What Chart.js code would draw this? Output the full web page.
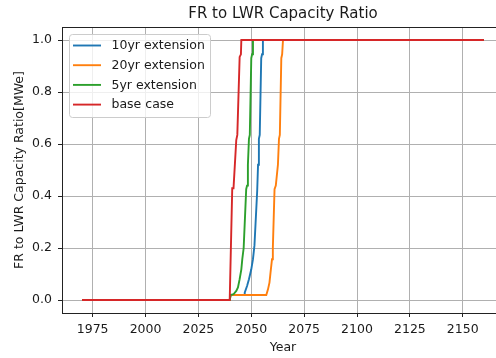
<!DOCTYPE html>
<html>
<head>
<meta charset="utf-8">
<script src="https://cdn.jsdelivr.net/npm/chart.js@4.4.1/dist/chart.umd.min.js"></script>
<style>
  html, body { margin: 0; padding: 0; overflow: hidden; background: #ffffff; }
  #wrap { width: 504px; height: 358px; }
</style>
</head>
<body>
<div id="wrap"><canvas id="ratioChart" width="504" height="358"></canvas></div>
<script>
// breakpoints (year, FR/LWR ratio)
const ext10Years = [1970, 2039.8, 2040.2, 2046.6, 2046.9, 2048.0, 2048.9, 2050.0, 2050.8, 2051.5, 2052.8, 2053.2, 2053.6, 2054.0, 2054.7, 2055.1, 2055.5, 2160];
const ext10Values = [0, 0, 0.019, 0.019, 0.028, 0.054, 0.08, 0.118, 0.157, 0.21, 0.42, 0.52, 0.62, 0.635, 0.93, 0.945, 1.0, 1.0];

const ext20Years = [1970, 2039.8, 2040.2, 2057.1, 2057.9, 2058.6, 2059.1, 2059.8, 2060.2, 2061.0, 2061.6, 2062.6, 2063.1, 2063.5, 2064.2, 2064.6, 2065.0, 2160];
const ext20Values = [0, 0, 0.019, 0.019, 0.041, 0.067, 0.105, 0.157, 0.2, 0.426, 0.44, 0.52, 0.62, 0.635, 0.93, 0.945, 1.0, 1.0];

const ext5Years = [1970, 2039.8, 2040.2, 2041.6, 2042.9, 2043.7, 2044.5, 2045.3, 2045.75, 2046.4, 2047.6, 2048.0, 2048.4, 2048.9, 2049.3, 2050.0, 2050.4, 2050.8, 2160];
const ext5Values = [0, 0, 0.019, 0.022, 0.035, 0.048, 0.08, 0.118, 0.157, 0.2, 0.426, 0.44, 0.52, 0.62, 0.635, 0.93, 0.945, 1.0, 1.0];

const baseYears = [1970, 2039.8, 2041.0, 2041.6, 2042.9, 2043.4, 2044.5, 2045.1, 2045.3, 2160];
const baseValues = [0, 0, 0.43, 0.43, 0.615, 0.635, 0.935, 0.945, 1.0, 1.0];

const seriesLabels = ["10yr extension", "20yr extension", "5yr extension", "base case"];
const seriesColors = ["#1f77b4", "#ff7f0e", "#2ca02c", "#d62728"];

const yearTicks = [1975, 2000, 2025, 2050, 2075, 2100, 2125, 2150];
const ratioTicks = [0, 0.2, 0.4, 0.6, 0.8, 1.0];

const textColor = "#1a1a1a";
const fontFamily = "'DejaVu Sans', sans-serif";

const toPoints = (years, values) => years.map((year, i) => ({ x: year, y: values[i] }));

const seriesPoints = [
  toPoints(ext10Years, ext10Values),
  toPoints(ext20Years, ext20Values),
  toPoints(ext5Years, ext5Values),
  toPoints(baseYears, baseValues),
];

// top and right spines, like matplotlib's box
const axesFrame = {
  id: "axesFrame",
  afterDatasetsDraw(chart) {
    const { ctx, chartArea } = chart;
    ctx.save();
    ctx.strokeStyle = "#222222";
    ctx.lineWidth = 1;
    ctx.beginPath();
    ctx.moveTo(chartArea.left, Math.round(chartArea.top) + 0.5);
    ctx.lineTo(chartArea.right, Math.round(chartArea.top) + 0.5);
    ctx.lineTo(chartArea.right - 0.5, chartArea.bottom);
    ctx.stroke();
    ctx.restore();
  },
};

// legend boxed inside the upper left corner of the plot
const insetLegend = {
  id: "insetLegend",
  afterDraw(chart) {
    const { ctx, chartArea } = chart;
    const x = Math.round(chartArea.left + 7) + 0.5;
    const y = Math.round(chartArea.top + 7) + 0.5;
    ctx.save();
    ctx.font = `12.5px ${fontFamily}`;
    const labelWidth = Math.max(...chart.data.datasets.map((ds) => ctx.measureText(ds.label).width));
    const w = Math.round(42 + labelWidth + 6);
    const h = 83;

    ctx.beginPath();
    ctx.roundRect(x, y, w, h, 3);
    ctx.fillStyle = "rgba(255, 255, 255, 0.8)";
    ctx.fill();
    ctx.strokeStyle = "#cccccc";
    ctx.lineWidth = 1;
    ctx.stroke();

    chart.data.datasets.forEach((ds, i) => {
      const rowY = y + 11 + i * 19.7;
      ctx.beginPath();
      ctx.moveTo(x + 3.5, rowY);
      ctx.lineTo(x + 31.5, rowY);
      ctx.strokeStyle = ds.borderColor;
      ctx.lineWidth = 1.9;
      ctx.stroke();
      ctx.fillStyle = textColor;
      ctx.textBaseline = "middle";
      ctx.textAlign = "left";
      ctx.fillText(ds.label, x + 42, rowY + 0.5);
    });
    ctx.restore();
  },
};

new Chart(document.getElementById("ratioChart"), {
  data: {
    datasets: seriesLabels.map((label, i) => ({
      borderColor: seriesColors[i],
      borderWidth: 1.9,
      data: seriesPoints[i],
      label,
      order: seriesLabels.length - i,
      pointRadius: 0,
      tension: 0,
    })),
  },
  options: {
    animation: false,
    devicePixelRatio: 1,
    events: [],
    layout: {
      padding: 0,
    },
    plugins: {
      legend: {
        display: false,
      },
      title: {
        color: textColor,
        display: true,
        font: {
          family: fontFamily,
          size: 15,
          weight: "normal",
        },
        fullSize: false,
        padding: { bottom: 4, top: 5 },
        text: "FR to LWR Capacity Ratio",
      },
      tooltip: {
        enabled: false,
      },
    },
    responsive: false,
    scales: {
      x: {
        afterBuildTicks: (scale) => {
          scale.ticks = yearTicks.map((value) => ({ value }));
        },
        afterFit: (scale) => {
          scale.height = 45;
        },
        border: {
          color: "#222222",
          display: true,
          width: 1,
        },
        grid: {
          color: "#b0b0b0",
          lineWidth: 1,
          tickColor: "#222222",
          tickLength: 4,
        },
        max: 2169.5,
        min: 1960.5,
        ticks: {
          autoSkip: false,
          callback: (value) => String(value),
          color: textColor,
          font: { family: fontFamily, size: 12.5 },
          maxRotation: 0,
          padding: 5,
        },
        title: {
          color: textColor,
          display: true,
          font: { family: fontFamily, size: 12.5 },
          padding: { bottom: 3, top: 0 },
          text: "Year",
        },
        type: "linear",
      },
      y: {
        afterBuildTicks: (scale) => {
          scale.ticks = ratioTicks.map((value) => ({ value }));
        },
        afterFit: (scale) => {
          scale.width = 62;
        },
        border: {
          color: "#222222",
          display: true,
          width: 1,
        },
        grid: {
          color: "#b0b0b0",
          lineWidth: 1,
          tickColor: "#222222",
          tickLength: 4,
        },
        max: 1.05,
        min: -0.05,
        ticks: {
          callback: (value) => Number(value).toFixed(1),
          color: textColor,
          font: { family: fontFamily, size: 12.5 },
          padding: 6,
        },
        title: {
          color: textColor,
          display: true,
          font: { family: fontFamily, size: 12.5 },
          padding: { bottom: 0, top: 12 },
          text: "FR to LWR Capacity Ratio[MWe]",
        },
      },
    },
  },
  plugins: [axesFrame, insetLegend],
  type: "line",
});
</script>
</body>
</html>
